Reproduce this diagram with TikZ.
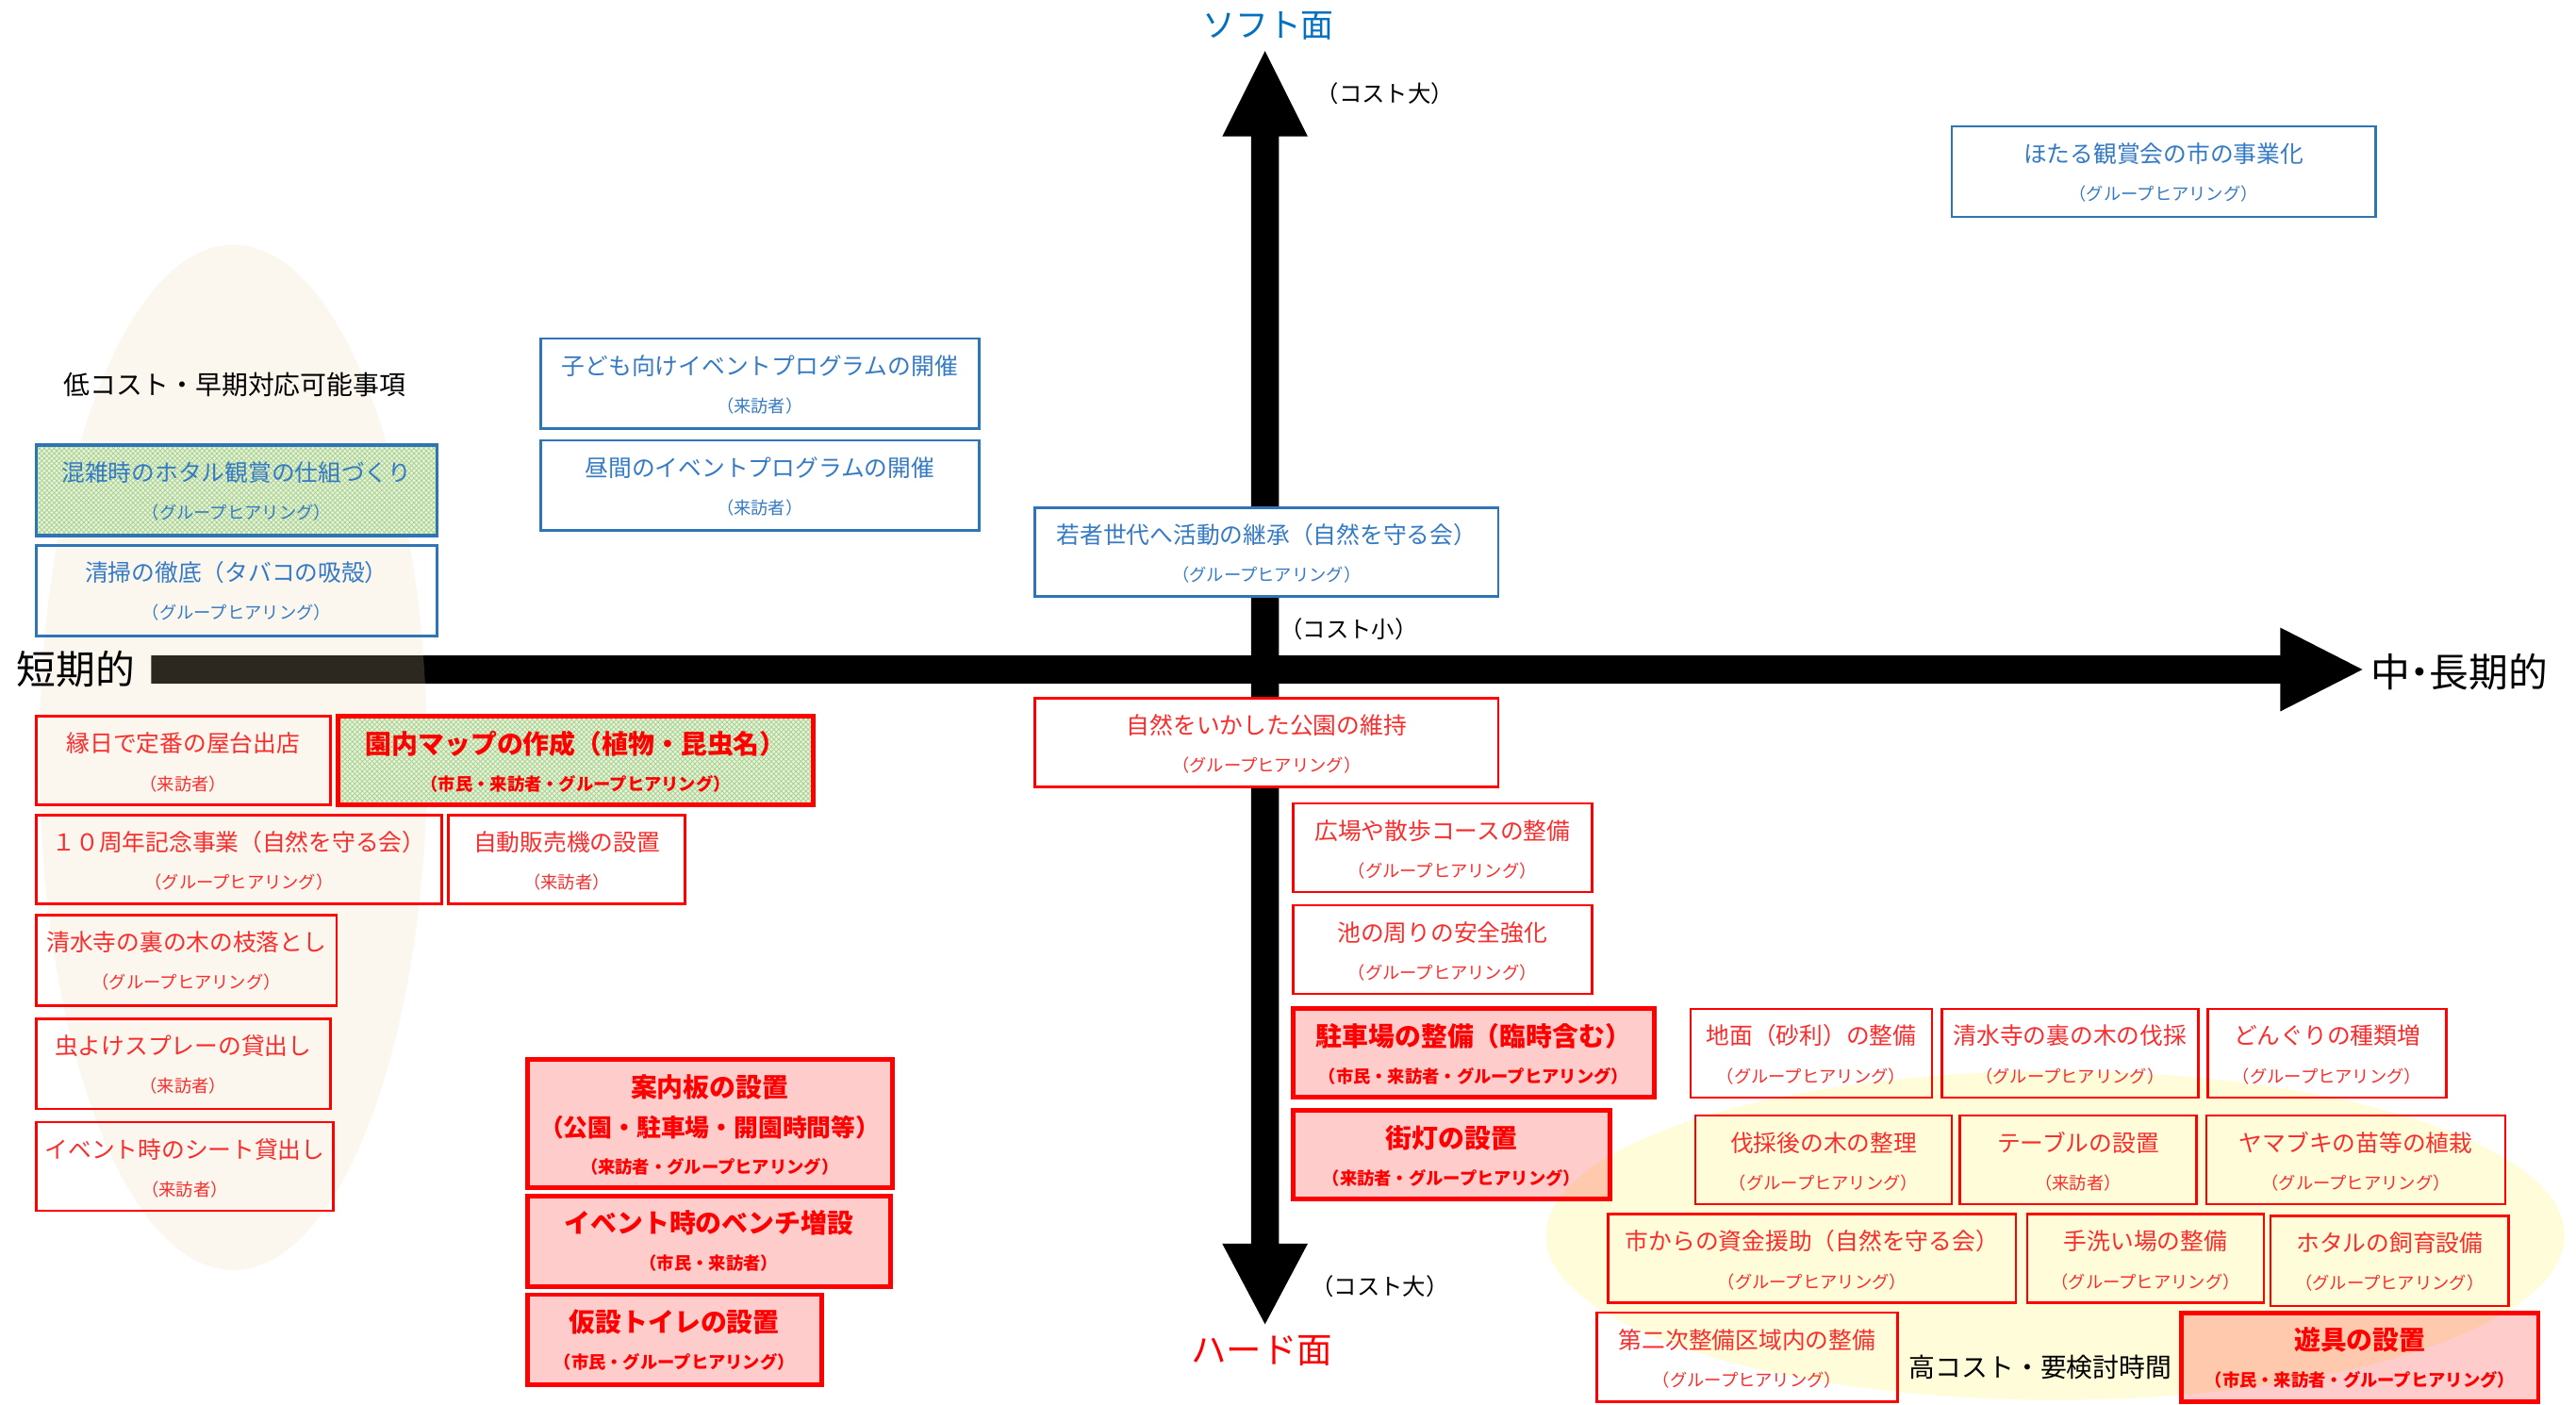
\documentclass[tikz,border=0pt]{standalone}
\usepackage{fontspec}
\setmainfont{Noto Sans CJK JP}
\usetikzlibrary{calc,patterns}

\definecolor{bl}{RGB}{46,117,182}
\definecolor{bltxt}{RGB}{52,122,196}
\definecolor{rdtxt}{RGB}{250,45,45}
\definecolor{beige}{RGB}{234,208,166}
\definecolor{ylw}{RGB}{255,252,218}
\definecolor{grfill}{RGB}{230,242,220}
\definecolor{grpat}{RGB}{165,208,135}
\definecolor{softblue}{RGB}{0,112,192}

\tikzset{
  frame/.style={draw, line width=1.5pt, inner sep=0pt, outer sep=0pt, anchor=north west},
  bfr/.style={frame, draw=bl},
  rfr/.style={frame, draw=red},
  efr/.style={frame, draw=red, line width=2.8pt, fill=red, fill opacity=0.2},
  hatch/.style={preaction={fill=grfill},
                preaction={pattern=north east lines, pattern color=grpat},
                pattern=north west lines, pattern color=grpat},
  btx/.style={inner sep=0pt, text=bltxt, font=\fontsize{14.2}{14.2}\selectfont},
  bsub/.style={inner sep=0pt, text=bltxt, font=\fontsize{10.5}{10.5}\selectfont},
  rtx/.style={inner sep=0pt, text=rdtxt, font=\fontsize{14.2}{14.2}\selectfont},
  rsub/.style={inner sep=0pt, text=rdtxt, font=\fontsize{10.5}{10.5}\selectfont},
  etx/.style={inner sep=0pt, text=red, font=\fontsize{16}{16}\selectfont\bfseries},
  esub/.style={inner sep=0pt, text=red, font=\fontsize{10.5}{10.5}\selectfont\bfseries},
  lbl/.style={inner sep=0pt, text=black},
}

% #1 name, #2 x1, #3 y1, #4 x2, #5 y2, #6 frame style, #7 text kind (b/r/e), #8 main, #9 sub
\newcommand\bx[9]{%
  \node[#6, minimum width={(#4)-(#2)}, minimum height={(#5)-(#3)}] (#1) at (#2,#3) {};
  \node[#7tx] (#1m) at ($(#1.north)+(0,16.5)$) {#8};
  \node[#7sub] (#1s) at ($(#1.north)+(0,41)$) {#9};
}

\begin{document}
\begin{tikzpicture}[x=1pt,y=-1pt]
\useasboundingbox (0,0) rectangle (1568,855);
\fill[white] (0,0) rectangle (1568,855);

% axes
\fill[black] (92,399) -- (1388,399) -- (1388,382) -- (1438,407.5) -- (1388,433) -- (1388,416) -- (92,416) -- cycle;
\fill[black] (761.5,83) -- (744,83) -- (770,31) -- (796,83) -- (778.5,83) -- (778.5,757)
  -- (796,757) -- (770,806) -- (744,757) -- (761.5,757) -- cycle;

% highlight areas
\fill[beige, fill opacity=0.19] (142,461) ellipse [x radius=118pt, y radius=312pt];
\fill[ylw] (1251,752) ellipse [x radius=310pt, y radius=100pt];

% soft side (blue)
\bx{kodomo}{329}{206}{596}{261}{bfr}{b}{子ども向けイベントプログラムの開催}{（来訪者）}
\bx{hiruma}{329}{268}{596}{323}{bfr}{b}{昼間のイベントプログラムの開催}{（来訪者）}
\bx{konzatsu}{22}{271}{266}{326}{bfr,line width=2pt,hatch}{b}{混雑時のホタル観賞の仕組づくり}{（グループヒアリング）}
\bx{seiso}{22}{332}{266}{387}{bfr,line width=2pt}{b}{清掃の徹底（タバコの吸殻）}{（グループヒアリング）}
\bx{wakamono}{630}{309}{912}{363}{bfr,fill=white}{b}{若者世代へ活動の継承（自然を守る会）}{（グループヒアリング）}
\bx{hotaru}{1188}{77}{1446}{132}{bfr}{b}{ほたる観賞会の市の事業化}{（グループヒアリング）}

% hard side (red)
\bx{ennichi}{22}{436}{201}{490}{rfr}{r}{縁日で定番の屋台出店}{（来訪者）}
\bx{map}{206}{436}{495}{490}{rfr,line width=2.8pt,hatch}{e}{園内マップの作成（植物・昆虫名）}{（市民・来訪者・グループヒアリング）}
\bx{juu}{22}{496}{269}{550}{rfr}{r}{１０周年記念事業（自然を守る会）}{（グループヒアリング）}
\bx{jihan}{273}{496}{417}{550}{rfr}{r}{自動販売機の設置}{（来訪者）}
\bx{edaoto}{22}{557}{205}{612}{rfr}{r}{清水寺の裏の木の枝落とし}{（グループヒアリング）}
\bx{mushi}{22}{620}{201}{675}{rfr}{r}{虫よけスプレーの貸出し}{（来訪者）}
\bx{sheet}{22}{683}{203}{737}{rfr}{r}{イベント時のシート貸出し}{（来訪者）}

\node[efr, minimum width=222, minimum height=78] (annai) at (321,645) {};
\node[etx] (annaim) at ($(annai.north)+(0,17)$) {案内板の設置};
\node[etx, font=\fontsize{14.8}{14.8}\selectfont\bfseries] (annaim2) at ($(annai.north)+(0,41)$) {（公園・駐車場・開園時間等）};
\node[esub] (annais) at ($(annai.north)+(0,65)$) {（来訪者・グループヒアリング）};

\bx{bench}{321}{728}{542}{783}{efr}{e}{イベント時のベンチ増設}{（市民・来訪者）}
\bx{toilet}{321}{788}{500}{843}{efr}{e}{仮設トイレの設置}{（市民・グループヒアリング）}
\bx{shizen}{630}{425}{912}{479}{rfr,fill=white}{r}{自然をいかした公園の維持}{（グループヒアリング）}
\bx{hiroba}{787}{489}{969}{543}{rfr}{r}{広場や散歩コースの整備}{（グループヒアリング）}
\bx{ike}{787}{551}{969}{605}{rfr}{r}{池の周りの安全強化}{（グループヒアリング）}
\bx{chusha}{787}{614}{1007}{668}{efr}{e}{駐車場の整備（臨時含む）}{（市民・来訪者・グループヒアリング）}
\bx{gaito}{787}{676}{980}{730}{efr}{e}{街灯の設置}{（来訪者・グループヒアリング）}
\bx{jimen}{1029}{614}{1176}{668}{rfr}{r}{地面（砂利）の整備}{（グループヒアリング）}
\bx{bassai}{1182}{614}{1338}{668}{rfr}{r}{清水寺の裏の木の伐採}{（グループヒアリング）}
\bx{donguri}{1344}{614}{1489}{668}{rfr}{r}{どんぐりの種類増}{（グループヒアリング）}
\bx{seiri}{1032}{679}{1188}{733}{rfr}{r}{伐採後の木の整理}{（グループヒアリング）}
\bx{table}{1193}{679}{1337}{733}{rfr}{r}{テーブルの設置}{（来訪者）}
\bx{yamabuki}{1343}{679}{1525}{733}{rfr}{r}{ヤマブキの苗等の植栽}{（グループヒアリング）}
\bx{shikin}{979}{739}{1227}{793}{rfr}{r}{市からの資金援助（自然を守る会）}{（グループヒアリング）}
\bx{tearai}{1234}{739}{1378}{793}{rfr}{r}{手洗い場の整備}{（グループヒアリング）}
\bx{shiiku}{1382}{740}{1527}{795}{rfr}{r}{ホタルの飼育設備}{（グループヒアリング）}
\bx{daini}{972}{799}{1155}{853}{rfr}{r}{第二次整備区域内の整備}{（グループヒアリング）}
\bx{yugu}{1328}{799}{1545}{853}{efr}{e}{遊具の設置}{（市民・来訪者・グループヒアリング）}

% labels
\node[lbl, font=\fontsize{16}{16}\selectfont] (low) at (143,234) {低コスト・早期対応可能事項};
\node[lbl, font=\fontsize{16}{16}\selectfont] (high) at (1242,832) {高コスト・要検討時間};
\node[lbl, font=\fontsize{24}{24}\selectfont] (short) at (46,407) {短期的};
\node[lbl, font=\fontsize{24}{24}\selectfont] (long) at (1497,409) {中\kern-.25em・\kern-.25em長期的};
\node[lbl, text=softblue, font=\fontsize{20}{20}\selectfont] (soft) at (772,16) {ソフト面};
\node[lbl, text=red, font=\fontsize{21.5}{21.5}\selectfont] (hard) at (768,822) {ハード面};
\node[lbl, font=\fontsize{14}{14}\selectfont] (costbig1) at (843,57) {（コスト大）};
\node[lbl, font=\fontsize{14}{14}\selectfont] (costsmall) at (821,383) {（コスト小）};
\node[lbl, font=\fontsize{14}{14}\selectfont] (costbig2) at (840,783) {（コスト大）};
\end{tikzpicture}
\end{document}
